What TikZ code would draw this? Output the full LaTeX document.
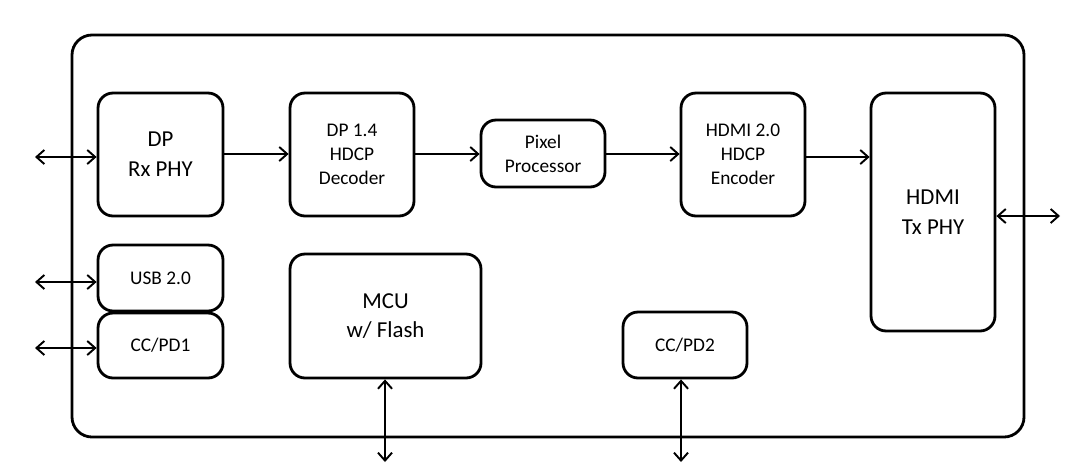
\documentclass[tikz,border=0pt]{standalone}
\usepackage{fontspec}
\setmainfont{Carlito}
\usetikzlibrary{positioning}
\usetikzlibrary{arrows.meta}

\tikzset{
    blk/.style={draw, line width=1.6pt, rounded corners=0.3cm, align=center},
    io/.style={line width=1.1pt, {Straight Barb[length=4.5pt,width=8pt]}-{Straight Barb[length=4.5pt,width=8pt]}},
    fw/.style={line width=1.1pt, -{Straight Barb[length=4.5pt,width=8pt]}}
}

\begin{document}
\begin{tikzpicture}[x=0.02cm, y=-0.02cm]
    \useasboundingbox (0,0) rectangle (1077,471);
    %chip
    \draw[line width=1.6pt, rounded corners=0.4cm] (72,35) rectangle (1024,437);
    %DP Rx PHY
    \node[blk, minimum width=2.5cm, minimum height=2.46cm, font=\fontsize{13}{17}\selectfont] at (160.5,154.5) (rx) {DP\\Rx PHY};
    %Decoder
    \node[blk, minimum width=2.48cm, minimum height=2.46cm, font=\fontsize{11}{13.6}\selectfont] at (352,154.5) (dec) {DP 1.4\\HDCP\\Decoder};
    %Pixel Processor
    \node[blk, minimum width=2.48cm, minimum height=1.34cm, font=\fontsize{11}{13.6}\selectfont] at (543,153.5) (pix) {Pixel\\Processor};
    %Encoder
    \node[blk, minimum width=2.48cm, minimum height=2.46cm, font=\fontsize{11}{13.6}\selectfont] at (743,154.5) (enc) {HDMI 2.0\\HDCP\\Encoder};
    %HDMI Tx PHY
    \node[blk, minimum width=2.48cm, minimum height=4.76cm, font=\fontsize{13}{17}\selectfont] at (933,212) (tx) {HDMI\\Tx PHY};
    %USB
    \node[blk, minimum width=2.5cm, minimum height=1.32cm, font=\fontsize{11}{13}\selectfont] at (160.5,278) (usb) {USB 2.0};
    %CC/PD1
    \node[blk, minimum width=2.5cm, minimum height=1.3cm, font=\fontsize{11}{13}\selectfont] at (160.5,345.5) (pd1) {CC/PD1};
    %MCU
    \node[blk, minimum width=3.82cm, minimum height=2.48cm, font=\fontsize{13}{17}\selectfont] at (385.5,316) (mcu) {MCU\\w/ Flash};
    %CC/PD2
    \node[blk, minimum width=2.48cm, minimum height=1.32cm, font=\fontsize{11}{13}\selectfont] at (685,345) (pd2) {CC/PD2};

    %outside ends
    \coordinate (rxin) at (35,157);
    \coordinate (usbin) at (35,282);
    \coordinate (pd1in) at (35,348);
    \coordinate (txout) at (1060,216);
    \coordinate (mcuout) at (385,462);
    \coordinate (pd2out) at (681,462);

    %ports
    \draw[io] (rxin) -- (rxin -| rx.west);
    \draw[io] (usbin) -- (usbin -| usb.west);
    \draw[io] (pd1in) -- (pd1in -| pd1.west);
    \draw[io] (tx.east |- txout) -- (txout);
    \draw[io] (mcuout |- mcu.south) -- (mcuout);
    \draw[io] (pd2out |- pd2.south) -- (pd2out);
    %data path
    \draw[fw] (rx.east |- 0,154) -- (dec.west |- 0,154);
    \draw[fw] (dec.east |- 0,154) -- (pix.west |- 0,154);
    \draw[fw] (pix.east |- 0,154) -- (enc.west |- 0,154);
    \draw[fw] (enc.east |- 0,157) -- (tx.west |- 0,157);
\end{tikzpicture}
\end{document}
